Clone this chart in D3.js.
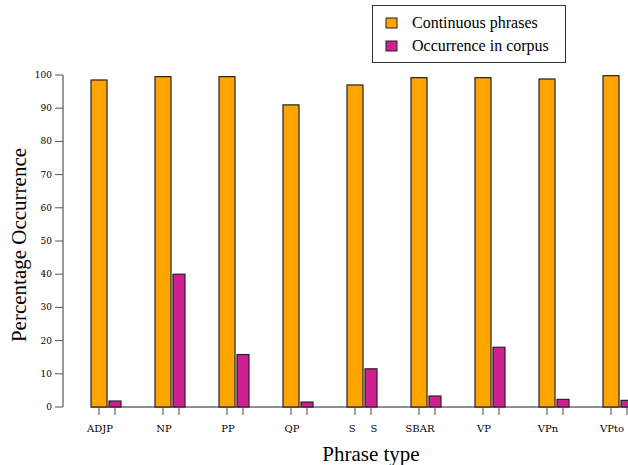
<!DOCTYPE html>
<html>
<head>
<meta charset="utf-8">
<script src="https://cdn.jsdelivr.net/npm/d3@7"></script>
<style>
  body { margin: 0; background: #fff; }
  svg { display: block; }
  .tick-label { font-family: "DejaVu Serif", serif; font-size: 9px; fill: #000; }
  .x-label { font-size: 10px; }
  .axis-label { font-family: "Liberation Serif", serif; font-size: 21px; fill: #000; }
  .legend-text { font-family: "Liberation Serif", serif; font-size: 16px; fill: #000; }
</style>
</head>
<body>
<div id="chart"></div>
<script>
const categories = ["ADJP", "NP", "PP", "QP", "S", "SBAR", "VP", "VPn", "VPto"];
const categoryLabels = ["ADJP", "NP", "PP", "QP", "S\u2003\u2002S", "SBAR", "VP", "VPn", "VPto"];
const continuousValues = [98.5, 99.5, 99.5, 91, 97, 99.2, 99.2, 98.8, 99.8];
const corpusValues = [1.8, 40, 15.8, 1.5, 11.5, 3.3, 18, 2.3, 2];
const yTicks = [0, 10, 20, 30, 40, 50, 60, 70, 80, 90, 100];
const seriesNames = ["Continuous phrases", "Occurrence in corpus"];
const seriesColors = ["#ffa500", "#d02090"];

const width = 628;
const height = 465;
const plotTop = 75;
const plotBottom = 407;
const axisX = 63;

const svg = d3.select("#chart")
    .append("svg")
    .attr("width", width)
    .attr("height", height);

const xScale = d3.scaleBand()
    .domain(categories)
    .range([91, 91 + categories.length * 64]);

const yScale = d3.scaleLinear()
    .domain([0, 100])
    .range([plotBottom, plotTop]);

const orangeW = 16;
const magentaOff = 18;
const magentaW = 12;

// y axis
svg.append("line")
    .attr("x1", axisX).attr("x2", axisX)
    .attr("y1", yScale(100)).attr("y2", yScale(0))
    .attr("stroke", "#555").attr("stroke-width", 1.2);

svg.selectAll(".ytick")
    .data(yTicks)
    .enter()
    .append("line")
    .attr("x1", axisX - 8).attr("x2", axisX)
    .attr("y1", d => yScale(d)).attr("y2", d => yScale(d))
    .attr("stroke", "#555").attr("stroke-width", 1);

svg.selectAll(".ylabel")
    .data(yTicks)
    .enter()
    .append("text")
    .attr("class", "tick-label")
    .attr("x", axisX - 11)
    .attr("y", d => yScale(d) + 3)
    .attr("text-anchor", "end")
    .text(d => d);

// baseline
svg.append("line")
    .attr("x1", xScale(categories[0])).attr("x2", width)
    .attr("y1", plotBottom).attr("y2", plotBottom)
    .attr("stroke", "#222").attr("stroke-width", 1.2);

// bars
svg.selectAll(".bar-cont")
    .data(categories)
    .enter()
    .append("rect")
    .attr("x", d => xScale(d))
    .attr("y", (d, i) => yScale(continuousValues[i]))
    .attr("width", orangeW)
    .attr("height", (d, i) => plotBottom - yScale(continuousValues[i]))
    .attr("fill", seriesColors[0])
    .attr("stroke", "#222")
    .attr("stroke-width", 1.2);

svg.selectAll(".bar-corp")
    .data(categories)
    .enter()
    .append("rect")
    .attr("x", d => xScale(d) + magentaOff)
    .attr("y", (d, i) => yScale(corpusValues[i]))
    .attr("width", magentaW)
    .attr("height", (d, i) => plotBottom - yScale(corpusValues[i]))
    .attr("fill", seriesColors[1])
    .attr("stroke", "#222")
    .attr("stroke-width", 1.2);

// x ticks
categories.forEach(c => {
    [xScale(c) + orangeW / 2, xScale(c) + magentaOff + magentaW / 2].forEach(tx => {
        svg.append("line")
            .attr("x1", tx).attr("x2", tx)
            .attr("y1", plotBottom).attr("y2", plotBottom + 8)
            .attr("stroke", "#444").attr("stroke-width", 1);
    });
});

svg.selectAll(".xlabel")
    .data(categories)
    .enter()
    .append("text")
    .attr("class", "tick-label x-label")
    .attr("x", (d, i) => d === "S" ? xScale(d) + 16 : xScale(d) + orangeW / 2 + 1)
    .attr("y", 432)
    .attr("text-anchor", "middle")
    .style("white-space", "pre")
    .text((d, i) => categoryLabels[i]);

// axis labels
svg.append("text")
    .attr("class", "axis-label")
    .attr("transform", "rotate(-90)")
    .attr("x", -(plotTop + plotBottom) / 2 - 4)
    .attr("y", 26)
    .attr("text-anchor", "middle")
    .text("Percentage Occurrence");

svg.append("text")
    .attr("class", "axis-label")
    .attr("x", 371)
    .attr("y", 461)
    .attr("text-anchor", "middle")
    .text("Phrase type");

// legend
const legend = svg.append("g");
legend.append("rect")
    .attr("x", 372.5).attr("y", 5.5)
    .attr("width", 193).attr("height", 57)
    .attr("fill", "#fff")
    .attr("stroke", "#333")
    .attr("stroke-width", 1);

seriesNames.forEach((name, i) => {
    legend.append("rect")
        .attr("x", 386).attr("y", 18 + i * 23)
        .attr("width", 11).attr("height", 10)
        .attr("fill", seriesColors[i])
        .attr("stroke", "#222")
        .attr("stroke-width", 1);
    legend.append("text")
        .attr("class", "legend-text")
        .attr("x", 412)
        .attr("y", 28 + i * 23)
        .text(name);
});
</script>
</body>
</html>
